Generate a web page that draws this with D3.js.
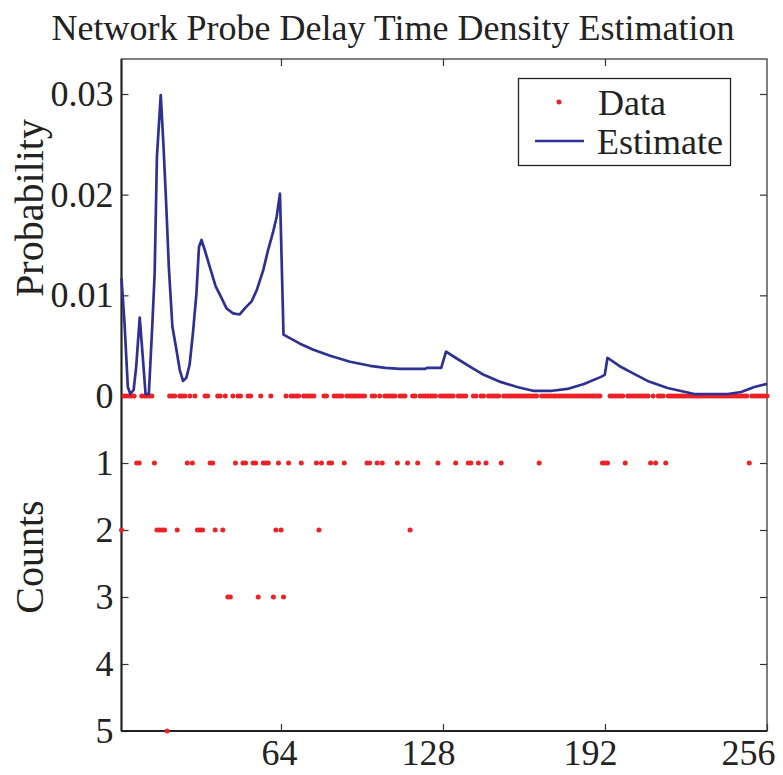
<!DOCTYPE html>
<html>
<head>
<meta charset="utf-8">
<script src="https://cdn.jsdelivr.net/npm/d3@7"></script>
<style>
  html, body { margin: 0; padding: 0; background: #fff; }
  svg text { font-family: "Liberation Serif", "Times New Roman", Times, serif; fill: #222; }
</style>
</head>
<body>
<svg id="chart" width="783" height="775"></svg>
<script>
// ---- data ----
const xTicks = [64, 128, 192, 256];
const probTicks = [0, 0.01, 0.02, 0.03];
const countTicks = [1, 2, 3, 4, 5];

// density estimate (x, probability)
const estX = [1, 2.2, 3.5, 4.5, 5.8, 6.8, 8.2, 9.4, 10.5, 11.8, 13.2, 14.1, 15, 16.5, 17.6, 18.7, 19.7, 21.1, 22.7, 24, 25.3, 26.6, 27.9, 29.2, 30.6, 31.6, 32.6, 33.9, 35.9, 38.2, 40.2, 42.5, 45.1, 47.7, 49.7, 52.4, 54.4, 57, 58.9, 60.9, 62.3, 63.6, 65, 71.5, 76.8, 83.4, 91.3, 99.2, 105.2, 111.1, 121, 121.7, 127.3, 129.2, 133.6, 138.8, 144.1, 150.7, 157.3, 163.9, 170.5, 177.1, 183.7, 190.4, 191.9, 193, 198.2, 203.5, 208.8, 216.7, 227.3, 240.5, 245.8, 251, 256];
const estY = [0.0117, 0.0072, 0.0009, 0.0002, 0.0006, 0.0029, 0.0078, 0.0039, 0.0002, 0.0002, 0.0072, 0.0122, 0.0238, 0.0299, 0.0248, 0.0188, 0.0128, 0.0069, 0.0046, 0.0026, 0.0015, 0.0018, 0.0031, 0.0062, 0.0102, 0.0148, 0.0155, 0.0145, 0.0128, 0.0109, 0.0099, 0.0087, 0.0082, 0.0081, 0.0087, 0.0094, 0.0105, 0.0125, 0.0145, 0.0163, 0.0178, 0.0201, 0.0061, 0.0052, 0.0046, 0.0040, 0.0034, 0.0030, 0.0028, 0.0027, 0.0027, 0.0028, 0.0028, 0.0044, 0.0037, 0.0029, 0.0021, 0.0014, 0.0009, 0.0005, 0.0005, 0.0007, 0.0012, 0.0019, 0.0021, 0.0038, 0.0029, 0.0022, 0.0015, 0.0008, 0.0002, 0.0002, 0.0004, 0.0009, 0.0012];

// observed counts per delay value (1..256); all other values have count 0
const countOne = [7, 8, 14, 27, 29, 36, 37, 46, 49, 50, 53, 54, 57, 58, 59, 63, 67, 72, 78, 80, 83, 84, 89, 98, 99, 102, 104, 110, 114, 118, 126, 133, 138, 139, 142, 145, 151, 166, 191, 192, 193, 200, 210, 212, 216, 249];
const countTwo = [1, 15, 16, 17, 18, 23, 31, 32, 33, 38, 41, 62, 64, 79, 115];
const countThree = [43, 44, 55, 61, 65];
const countFive = [19];

// ---- build data table ----
const counts = d3.range(1, 257).map(v => ({ x: v, c: 0 }));
countOne.forEach(v => counts[v - 1].c = 1);
countTwo.forEach(v => counts[v - 1].c = 2);
countThree.forEach(v => counts[v - 1].c = 3);
countFive.forEach(v => counts[v - 1].c = 5);
const estimate = estX.map((v, i) => ({ x: v, p: estY[i] }));

// ---- scales ----
const L = 121.5, R = 767, T = 59, B = 731, Z = 396;
const x = d3.scaleLinear().domain([1, 256]).range([L, R]);
const yP = d3.scaleLinear().domain([0, 0.03]).range([Z, 94]);
const yC = d3.scaleLinear().domain([0, 5]).range([Z, B]);

const svg = d3.select("#chart");
const red = "#ec2227", blue = "#2e3192";
const fs = 36;
const serif = '"Liberation Serif", "Times New Roman", Times, serif';

// title
svg.append("text").attr("x", 393).attr("y", 40).attr("text-anchor", "middle")
  .style("font-family", serif).style("font-size", fs + "px").text("Network Probe Delay Time Density Estimation");

// frame
svg.append("rect").attr("x", L).attr("y", T).attr("width", R - L).attr("height", B - T)
  .attr("fill", "none").attr("stroke", "#555").attr("stroke-width", 1.5);

// axes
function styleAxis(g) {
  g.attr("font-family", null).attr("font-size", null);
  g.select(".domain").remove();
  g.selectAll(".tick line").attr("stroke", "#333").attr("stroke-width", 1.2);
  g.selectAll(".tick text").style("font-family", serif).style("font-size", fs + "px").attr("fill", "#222");
}
svg.append("g").attr("transform", `translate(${L},0)`)
  .call(d3.axisLeft(yP).tickValues(probTicks).tickSizeInner(-7).tickSizeOuter(0).tickPadding(8)
    .tickFormat(d => d === 0 ? "0" : d3.format(".2f")(d)))
  .call(styleAxis);
svg.append("g").attr("transform", `translate(${L},0)`)
  .call(d3.axisLeft(yC).tickValues(countTicks).tickSizeInner(-7).tickSizeOuter(0).tickPadding(8)
    .tickFormat(d3.format("d")))
  .call(styleAxis);
svg.append("g").attr("transform", `translate(${R},0)`)
  .call(d3.axisRight(yP).tickValues(probTicks.slice(1)).tickSizeInner(-7).tickSizeOuter(0).tickFormat(""))
  .call(styleAxis);
svg.append("g").attr("transform", `translate(${R},0)`)
  .call(d3.axisRight(yC).tickValues(countTicks.slice(0, 4)).tickSizeInner(-7).tickSizeOuter(0).tickFormat(""))
  .call(styleAxis);
const xAxisG = svg.append("g").attr("transform", `translate(0,${B})`)
  .call(d3.axisBottom(x).tickValues(xTicks).tickSizeInner(-7).tickSizeOuter(0).tickPadding(8)
    .tickFormat(d3.format("d")))
  .call(styleAxis);
// labels sit slightly left of their ticks in the reference
xAxisG.selectAll(".tick text").attr("dx", d => d >= 256 ? -19 : (d >= 100 ? -15 : -2));
svg.append("g").attr("transform", `translate(0,${T})`)
  .call(d3.axisTop(x).tickValues(xTicks.slice(0, 3)).tickSizeInner(-7).tickSizeOuter(0).tickFormat(""))
  .call(styleAxis);

// left & bottom axis lines darker
svg.append("line").attr("x1", L).attr("x2", L).attr("y1", T).attr("y2", B).attr("stroke", "#222").attr("stroke-width", 2);
svg.append("line").attr("x1", L).attr("x2", R).attr("y1", B).attr("y2", B).attr("stroke", "#222").attr("stroke-width", 2);

// y labels
svg.append("text").attr("transform", "translate(43,208) rotate(-90)").attr("text-anchor", "middle")
  .style("font-family", serif).style("font-size", "40px").text("Probability");
svg.append("text").attr("transform", "translate(43,557) rotate(-90)").attr("text-anchor", "middle")
  .style("font-family", serif).style("font-size", "40px").text("Counts");

// data dots
svg.append("g").selectAll("circle").data(counts).join("circle")
  .attr("cx", d => x(d.x)).attr("cy", d => yC(d.c)).attr("r", 2.5).attr("fill", red);

// estimate line
svg.append("path").datum(estimate)
  .attr("d", d3.line().x(d => x(d.x)).y(d => yP(d.p)))
  .attr("fill", "none").attr("stroke", blue).attr("stroke-width", 2.7).attr("stroke-linejoin", "round");

// legend
const lg = svg.append("g");
lg.append("rect").attr("x", 518.5).attr("y", 78.5).attr("width", 212).attr("height", 87)
  .attr("fill", "#fff").attr("stroke", "#222").attr("stroke-width", 1.3);
lg.append("circle").attr("cx", 559).attr("cy", 102).attr("r", 2.5).attr("fill", red);
lg.append("line").attr("x1", 535).attr("x2", 584).attr("y1", 141).attr("y2", 141)
  .attr("stroke", blue).attr("stroke-width", 2.7);
lg.append("text").attr("x", 598).attr("y", 115).style("font-family", serif).style("font-size", fs + "px").text("Data");
lg.append("text").attr("x", 597).attr("y", 154).style("font-family", serif).style("font-size", fs + "px").text("Estimate");
</script>
</body>
</html>
